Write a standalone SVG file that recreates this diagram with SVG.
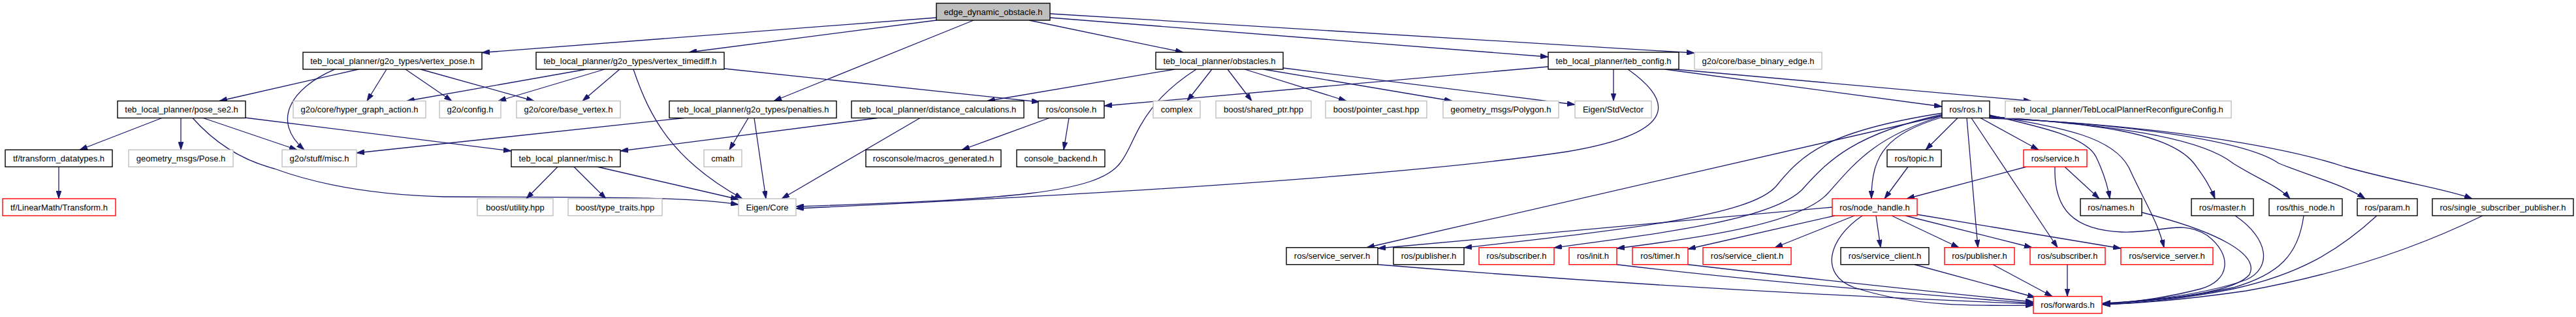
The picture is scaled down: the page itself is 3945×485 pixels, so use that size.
<svg xmlns="http://www.w3.org/2000/svg" width="3945" height="485" viewBox="0 0 3945 485">
<style>
.nd rect{fill:#ffffff;stroke:#000000;stroke-width:1.4}
.nd.g rect{stroke:#bfbfbf}
.nd.r rect{stroke:#ff0000}
.nd.root rect{fill:#bfbfbf}
.nd text{font-family:"Liberation Sans",Arial,sans-serif;font-size:13px;text-anchor:middle;fill:#000000}
#edges path{fill:none;stroke:#191970;stroke-width:1.3;marker-end:url(#ah)}
</style>
<defs>
<marker id="ah" markerWidth="12" markerHeight="8" refX="12" refY="4" orient="auto" markerUnits="userSpaceOnUse"><path d="M0,0 L12,4 L0,8 z" fill="#191970" stroke="#191970" stroke-width="0.8"/></marker>
</defs>
<rect x="0" y="0" width="3945" height="485" fill="#ffffff"/>
<g id="edges">
<path d="M1434,27 L738,80.5"/>
<path d="M1434,31 L1055,80"/>
<path d="M1491,31 L1185,154.5"/>
<path d="M1576,31 L1812,80"/>
<path d="M1608,27 L2371,87"/>
<path d="M1608,21 L2595,81"/>
<path d="M1109,105 L1592,156"/>
<path d="M549,106 L336,154.5"/>
<path d="M513,106 C445,135 415,185 466,229.25"/>
<path d="M592,106 L562,154.5"/>
<path d="M621,106 L692,154.5"/>
<path d="M644,106 L818,154.5"/>
<path d="M898,106 L623,154.5"/>
<path d="M926,106 L763,154.5"/>
<path d="M949,106 L892,154.5"/>
<path d="M970,106 C995,180 1030,245 1137,304"/>
<path d="M248,180.5 L122,229.25"/>
<path d="M277,180.5 L277,229.25"/>
<path d="M311,180.5 L455,229.25"/>
<path d="M295,180.5 C330,220 370,245 420,258 C480,280 560,298 680,301 C900,302 1050,300 1131,313"/>
<path d="M375,180 L783,231"/>
<path d="M90,255.25 L90,304"/>
<path d="M1048,180.5 L546,234"/>
<path d="M1146,180.5 L1117,229.25"/>
<path d="M1155,180.5 L1173,304"/>
<path d="M1344,180.5 L950,231"/>
<path d="M1409,180.5 L1197,304"/>
<path d="M1799,106 L1512,154.5"/>
<path d="M1856,106 L1818,154.5"/>
<path d="M1880,106 L1917,154.5"/>
<path d="M1906,106 L2062,154.5"/>
<path d="M1935,106 L2224,154.5"/>
<path d="M1965,104 L2412,160"/>
<path d="M1832,106 C1740,165 1740,220 1715,250 C1680,295 1550,305 1219,316"/>
<path d="M2371,102 L1691,162"/>
<path d="M2471,106 L2471,154.5"/>
<path d="M2493,106 C2570,160 2560,205 2400,232 C2200,262 1800,292 1219,319"/>
<path d="M2550,106 L2974,163"/>
<path d="M2565,106 L3111,154.5"/>
<path d="M1607,180.5 L1473,229.25"/>
<path d="M1637,180.5 L1629,229.25"/>
<path d="M854,255.25 L806,304"/>
<path d="M879,255.25 L928,304"/>
<path d="M915,255.25 L1131,305"/>
<path d="M2998,180.5 L2949,229.25"/>
<path d="M3033,180.5 L3122,229.25"/>
<path d="M2975,179 C2890,205 2866,235 2866,304"/>
<path d="M3012,180.5 L3029,378.75"/>
<path d="M3019,180.5 L3151,378.75"/>
<path d="M2974,177 L2093,378.75"/>
<path d="M2975,173 C2800,200 2760,235 2720,285 C2680,330 2500,350 2242,379"/>
<path d="M2975,175 C2840,205 2800,245 2760,290 C2715,335 2560,355 2380,379"/>
<path d="M2975,177 C2870,210 2840,250 2800,295 C2760,340 2620,362 2476,380"/>
<path d="M2806,317 L2110,380"/>
<path d="M2810,330 L2585,381"/>
<path d="M2840,330 L2718,378.75"/>
<path d="M2873,330 L2880,378.75"/>
<path d="M2897,330 L3000,378.75"/>
<path d="M2918,330 L3112,378.75"/>
<path d="M2935,328 L3248,380"/>
<path d="M2852,330 C2800,365 2785,420 2840,440 C2930,470 3030,468 3114,467"/>
<path d="M3103,255.25 L2920,304"/>
<path d="M3162,255.25 L3215,304"/>
<path d="M3147,255.25 C3145,320 3175,352 3250,355 C3310,357 3340,335 3380,360 C3420,390 3415,430 3370,442 C3320,455 3270,462 3220,465"/>
<path d="M2922,255.25 L2886,304"/>
<path d="M3047,176 C3130,195 3195,210 3210,240 C3222,265 3228,285 3231,304"/>
<path d="M3047,177 C3160,195 3240,210 3262,260 C3285,310 3305,340 3314,378.75"/>
<path d="M3047,178 C3200,190 3320,200 3360,250 C3375,270 3385,285 3392,304"/>
<path d="M3047,179 C3230,190 3370,210 3420,250 C3460,275 3490,285 3507,304"/>
<path d="M3047,180 C3260,190 3440,215 3490,250 C3540,270 3595,285 3622,304"/>
<path d="M3047,181 C3300,190 3500,225 3590,255 C3680,280 3750,290 3786,304"/>
<path d="M2110,404.75 Q2600,445 3114,465"/>
<path d="M2476,404.75 Q2700,432 3114,464"/>
<path d="M2585,404.75 Q2800,430 3114,462"/>
<path d="M2932,404.75 L3117,455"/>
<path d="M3052,404.75 L3143,453.5"/>
<path d="M3166,404.75 L3166,453.5"/>
<path d="M3280,325 C3400,355 3460,390 3445,420 C3420,450 3300,460 3220,464"/>
<path d="M3423,330 C3475,365 3480,410 3440,428 C3380,450 3290,460 3220,465"/>
<path d="M3528,330 C3520,390 3490,420 3420,440 C3350,455 3280,462 3220,465"/>
<path d="M3640,330 C3580,385 3520,420 3420,442 C3340,458 3280,463 3220,466"/>
<path d="M3802,330 C3700,380 3580,420 3440,445 C3350,458 3280,464 3220,466"/>
</g>
<g id="n-edge_dynamic_obstacle" class="nd root"><rect x="1434" y="5" width="174" height="26"/><text x="1521" y="22.5">edge_dynamic_obstacle.h</text></g>
<g id="n-vertex_pose" class="nd"><rect x="464" y="80" width="274" height="26"/><text x="601" y="97.5">teb_local_planner/g2o_types/vertex_pose.h</text></g>
<g id="n-vertex_timediff" class="nd"><rect x="821" y="80" width="288" height="26"/><text x="965" y="97.5">teb_local_planner/g2o_types/vertex_timediff.h</text></g>
<g id="n-obstacles" class="nd"><rect x="1770" y="80" width="195" height="26"/><text x="1867.5" y="97.5">teb_local_planner/obstacles.h</text></g>
<g id="n-teb_config" class="nd"><rect x="2371" y="80" width="200" height="26"/><text x="2471" y="97.5">teb_local_planner/teb_config.h</text></g>
<g id="n-base_binary_edge" class="nd g"><rect x="2595" y="80" width="195" height="26"/><text x="2692.5" y="97.5">g2o/core/base_binary_edge.h</text></g>
<g id="n-pose_se2" class="nd"><rect x="180" y="154.5" width="196" height="26"/><text x="278" y="172">teb_local_planner/pose_se2.h</text></g>
<g id="n-hyper_graph_action" class="nd g"><rect x="449" y="154.5" width="203" height="26"/><text x="550.5" y="172">g2o/core/hyper_graph_action.h</text></g>
<g id="n-g2o_config" class="nd g"><rect x="673" y="154.5" width="94" height="26"/><text x="720" y="172">g2o/config.h</text></g>
<g id="n-base_vertex" class="nd g"><rect x="791" y="154.5" width="159" height="26"/><text x="870.5" y="172">g2o/core/base_vertex.h</text></g>
<g id="n-penalties" class="nd"><rect x="1025" y="154.5" width="256" height="26"/><text x="1153" y="172">teb_local_planner/g2o_types/penalties.h</text></g>
<g id="n-distance_calculations" class="nd"><rect x="1304" y="154.5" width="264" height="26"/><text x="1436" y="172">teb_local_planner/distance_calculations.h</text></g>
<g id="n-ros_console" class="nd"><rect x="1590" y="154.5" width="101" height="26"/><text x="1640.5" y="172">ros/console.h</text></g>
<g id="n-complex" class="nd g"><rect x="1766" y="154.5" width="72" height="26"/><text x="1802" y="172">complex</text></g>
<g id="n-shared_ptr" class="nd g"><rect x="1862" y="154.5" width="146" height="26"/><text x="1935" y="172">boost/shared_ptr.hpp</text></g>
<g id="n-pointer_cast" class="nd g"><rect x="2030" y="154.5" width="155" height="26"/><text x="2107.5" y="172">boost/pointer_cast.hpp</text></g>
<g id="n-polygon" class="nd g"><rect x="2210" y="154.5" width="177" height="26"/><text x="2298.5" y="172">geometry_msgs/Polygon.h</text></g>
<g id="n-stdvector" class="nd g"><rect x="2412" y="154.5" width="117" height="26"/><text x="2470.5" y="172">Eigen/StdVector</text></g>
<g id="n-ros_ros" class="nd"><rect x="2974" y="154.5" width="73" height="26"/><text x="3010.5" y="172">ros/ros.h</text></g>
<g id="n-reconfigure" class="nd g"><rect x="3071" y="154.5" width="346" height="26"/><text x="3244" y="172">teb_local_planner/TebLocalPlannerReconfigureConfig.h</text></g>
<g id="n-transform_datatypes" class="nd"><rect x="8" y="229.25" width="164" height="26"/><text x="90" y="246.75">tf/transform_datatypes.h</text></g>
<g id="n-pose" class="nd g"><rect x="197" y="229.25" width="160" height="26"/><text x="277" y="246.75">geometry_msgs/Pose.h</text></g>
<g id="n-stuff_misc" class="nd g"><rect x="432" y="229.25" width="114" height="26"/><text x="489" y="246.75">g2o/stuff/misc.h</text></g>
<g id="n-teb_misc" class="nd"><rect x="783" y="229.25" width="167" height="26"/><text x="866.5" y="246.75">teb_local_planner/misc.h</text></g>
<g id="n-cmath" class="nd g"><rect x="1078" y="229.25" width="58" height="26"/><text x="1107" y="246.75">cmath</text></g>
<g id="n-macros_generated" class="nd"><rect x="1326" y="229.25" width="207" height="26"/><text x="1429.5" y="246.75">rosconsole/macros_generated.h</text></g>
<g id="n-console_backend" class="nd"><rect x="1557" y="229.25" width="135" height="26"/><text x="1624.5" y="246.75">console_backend.h</text></g>
<g id="n-topic" class="nd"><rect x="2890" y="229.25" width="83" height="26"/><text x="2931.5" y="246.75">ros/topic.h</text></g>
<g id="n-service" class="nd r"><rect x="3099" y="229.25" width="97" height="26"/><text x="3147.5" y="246.75">ros/service.h</text></g>
<g id="n-transform" class="nd r"><rect x="4" y="304" width="173" height="26"/><text x="90.5" y="321.5">tf/LinearMath/Transform.h</text></g>
<g id="n-utility" class="nd g"><rect x="731" y="304" width="116" height="26"/><text x="789" y="321.5">boost/utility.hpp</text></g>
<g id="n-type_traits" class="nd g"><rect x="870" y="304" width="144" height="26"/><text x="942" y="321.5">boost/type_traits.hpp</text></g>
<g id="n-eigen_core" class="nd g"><rect x="1131" y="304" width="88" height="26"/><text x="1175" y="321.5">Eigen/Core</text></g>
<g id="n-node_handle" class="nd r"><rect x="2806" y="304" width="130" height="26"/><text x="2871" y="321.5">ros/node_handle.h</text></g>
<g id="n-names" class="nd"><rect x="3186" y="304" width="94" height="26"/><text x="3233" y="321.5">ros/names.h</text></g>
<g id="n-master" class="nd"><rect x="3356" y="304" width="95" height="26"/><text x="3403.5" y="321.5">ros/master.h</text></g>
<g id="n-this_node" class="nd"><rect x="3475" y="304" width="112" height="26"/><text x="3531" y="321.5">ros/this_node.h</text></g>
<g id="n-param" class="nd"><rect x="3610" y="304" width="92" height="26"/><text x="3656" y="321.5">ros/param.h</text></g>
<g id="n-single_sub_pub" class="nd"><rect x="3725" y="304" width="216" height="26"/><text x="3833" y="321.5">ros/single_subscriber_publisher.h</text></g>
<g id="n-service_server_a" class="nd"><rect x="1970" y="378.75" width="140" height="26"/><text x="2040" y="396.25">ros/service_server.h</text></g>
<g id="n-publisher_a" class="nd"><rect x="2134" y="378.75" width="108" height="26"/><text x="2188" y="396.25">ros/publisher.h</text></g>
<g id="n-subscriber_a" class="nd r"><rect x="2265" y="378.75" width="115" height="26"/><text x="2322.5" y="396.25">ros/subscriber.h</text></g>
<g id="n-init" class="nd r"><rect x="2403" y="378.75" width="73" height="26"/><text x="2439.5" y="396.25">ros/init.h</text></g>
<g id="n-timer" class="nd r"><rect x="2500" y="378.75" width="85" height="26"/><text x="2542.5" y="396.25">ros/timer.h</text></g>
<g id="n-service_client_a" class="nd r"><rect x="2608" y="378.75" width="135" height="26"/><text x="2675.5" y="396.25">ros/service_client.h</text></g>
<g id="n-service_client_b" class="nd"><rect x="2819" y="378.75" width="135" height="26"/><text x="2886.5" y="396.25">ros/service_client.h</text></g>
<g id="n-publisher_b" class="nd r"><rect x="2978" y="378.75" width="107" height="26"/><text x="3031.5" y="396.25">ros/publisher.h</text></g>
<g id="n-subscriber_b" class="nd r"><rect x="3109" y="378.75" width="115" height="26"/><text x="3166.5" y="396.25">ros/subscriber.h</text></g>
<g id="n-service_server_b" class="nd r"><rect x="3248" y="378.75" width="141" height="26"/><text x="3318.5" y="396.25">ros/service_server.h</text></g>
<g id="n-forwards" class="nd r"><rect x="3114" y="453.5" width="105" height="26"/><text x="3166.5" y="471">ros/forwards.h</text></g>
</svg>
